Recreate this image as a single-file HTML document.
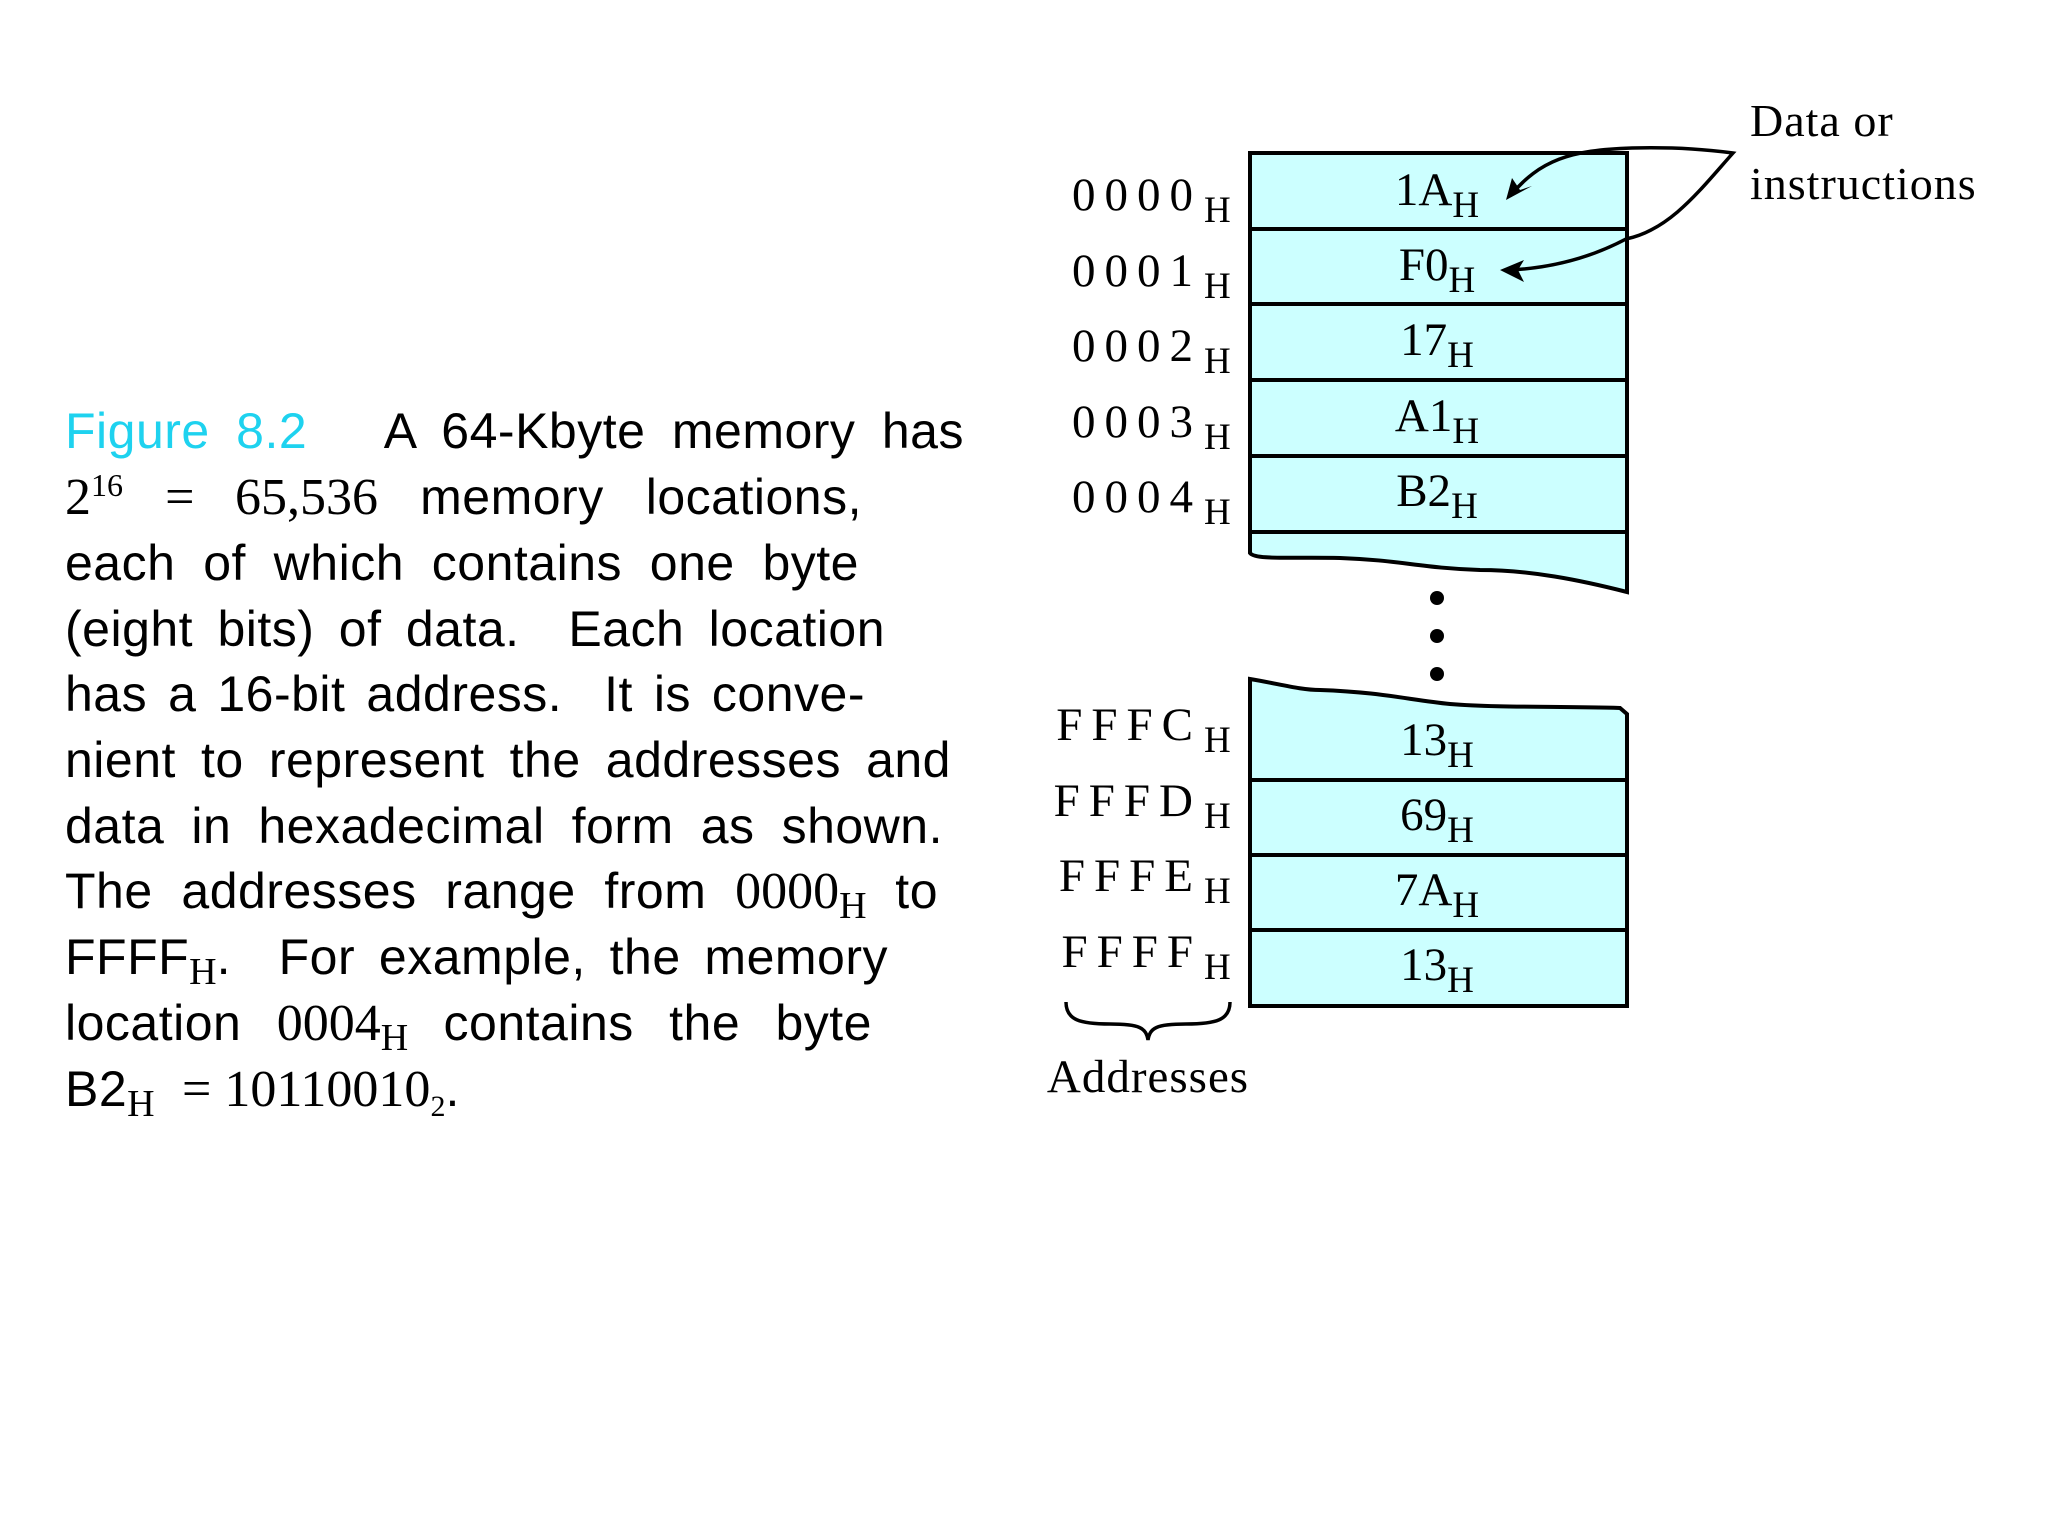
<!DOCTYPE html>
<html><head><meta charset="utf-8">
<style>
html,body{margin:0;padding:0;background:#fff;}
body{width:2048px;height:1536px;position:relative;overflow:hidden;}
.ln{position:absolute;left:65px;font-family:"Liberation Sans",sans-serif;font-size:50px;letter-spacing:0.5px;color:#000;white-space:nowrap;text-align:justify;text-align-last:justify;line-height:1;}
.s{font-family:"Liberation Serif",serif;font-size:52px;letter-spacing:0;}
.sub{font-family:"Liberation Serif",serif;font-size:38px;position:relative;top:10px;letter-spacing:0;}
.sup{font-family:"Liberation Serif",serif;font-size:32px;position:relative;top:-18px;letter-spacing:0;}
.fig{color:#1ed2ef;}
</style></head><body>
<div class="ln" style="top:406px;width:899px"><span class="fig">Figure 8.2</span>&nbsp;&nbsp; A 64-Kbyte memory has</div>
<div class="ln" style="top:472px;width:797px"><span class="s">2</span><span class="sup">16</span> <span class="s">= 65,536</span> memory locations,</div>
<div class="ln" style="top:538px;width:794px">each of which contains one byte</div>
<div class="ln" style="top:604px;width:820px">(eight bits) of data.&nbsp; Each location</div>
<div class="ln" style="top:669px;width:800px">has a 16-bit address.&nbsp; It is conve-</div>
<div class="ln" style="top:735px;width:886px">nient to represent the addresses and</div>
<div class="ln" style="top:801px;width:878px">data in hexadecimal form as shown.</div>
<div class="ln" style="top:866px;width:873px">The addresses range from <span class="s">0000</span><span class="sub">H</span> to</div>
<div class="ln" style="top:932px;width:823px">FFFF<span class="sub">H</span>.&nbsp; For example, the memory</div>
<div class="ln" style="top:998px;width:807px">location <span class="s">0004</span><span class="sub">H</span> contains the byte</div>
<div class="ln" style="top:1064px;text-align:left;text-align-last:left">B2<span class="sub">H</span> <span class="s">&nbsp;=&nbsp;10110010</span><span class="sub" style="font-size:30px">2</span>.</div>

<svg width="2048" height="1536" style="position:absolute;left:0;top:0" xmlns="http://www.w3.org/2000/svg">
<g stroke="#000" stroke-width="4" fill="#ccffff">
<path d="M1250,153 L1627,153 L1627,592 C1580,580 1530,570 1480,570 C1420,568 1400,560 1340,558 C1290,557 1255,560 1250,553 Z"/>
<path d="M1250,679 C1280,684 1300,690 1320,690 C1380,692 1410,700 1450,704 C1500,708 1560,706 1620,708 L1627,714 L1627,1006 L1250,1006 Z"/>
<line x1="1250" y1="229" x2="1627" y2="229"/>
<line x1="1250" y1="304" x2="1627" y2="304"/>
<line x1="1250" y1="380" x2="1627" y2="380"/>
<line x1="1250" y1="456" x2="1627" y2="456"/>
<line x1="1250" y1="532" x2="1627" y2="532"/>
<line x1="1250" y1="780" x2="1627" y2="780"/>
<line x1="1250" y1="855" x2="1627" y2="855"/>
<line x1="1250" y1="930" x2="1627" y2="930"/>
</g>
<g fill="#000">
<circle cx="1437" cy="598" r="7"/><circle cx="1437" cy="636" r="7"/><circle cx="1437" cy="674" r="7"/>
</g>
<g stroke="#000" stroke-width="3.5" fill="none">
<path d="M1510,196 C1540,160 1570,150 1632,148 C1680,147 1710,150 1733,153 C1700,190 1670,230 1626,239 C1590,258 1550,268 1510,270"/>
<path d="M1066,1002 C1066,1020 1080,1024 1110,1024 C1140,1024 1146,1028 1148,1040 C1150,1028 1156,1024 1186,1024 C1216,1024 1230,1020 1230,1002"/>
</g>
<g fill="#000">
<polygon points="1506,200 1512,178 1520,190 1532,186"/>
<polygon points="1500,270 1524,260 1518,270 1524,282"/>
</g>
<g font-family="Liberation Serif,serif" fill="#000">
<g font-size="47" letter-spacing="9" text-anchor="end">
<text x="1202" y="210">0000</text>
<text x="1202" y="286">0001</text>
<text x="1202" y="361">0002</text>
<text x="1202" y="437">0003</text>
<text x="1202" y="512">0004</text>
<text x="1202" y="740">FFFC</text>
<text x="1202" y="816">FFFD</text>
<text x="1202" y="891">FFFE</text>
<text x="1202" y="967">FFFF</text>
</g>
<g font-size="37">
<text x="1204" y="222">H</text><text x="1204" y="298">H</text><text x="1204" y="373">H</text><text x="1204" y="449">H</text><text x="1204" y="524">H</text>
<text x="1204" y="752">H</text><text x="1204" y="828">H</text><text x="1204" y="903">H</text><text x="1204" y="979">H</text>
</g>
<g font-size="47" text-anchor="middle">
<text x="1437" y="205">1A<tspan font-size="37" dy="12">H</tspan></text>
<text x="1437" y="280">F0<tspan font-size="37" dy="12">H</tspan></text>
<text x="1437" y="355">17<tspan font-size="37" dy="12">H</tspan></text>
<text x="1437" y="431">A1<tspan font-size="37" dy="12">H</tspan></text>
<text x="1437" y="506">B2<tspan font-size="37" dy="12">H</tspan></text>
<text x="1437" y="755">13<tspan font-size="37" dy="12">H</tspan></text>
<text x="1437" y="830">69<tspan font-size="37" dy="12">H</tspan></text>
<text x="1437" y="905">7A<tspan font-size="37" dy="12">H</tspan></text>
<text x="1437" y="980">13<tspan font-size="37" dy="12">H</tspan></text>
</g>
<g font-size="46" letter-spacing="1">
<text x="1750" y="136">Data or</text>
<text x="1750" y="199">instructions</text>
<text x="1148" y="1092" text-anchor="middle" font-size="47">Addresses</text>
</g>
</g>
</svg>
</body></html>
